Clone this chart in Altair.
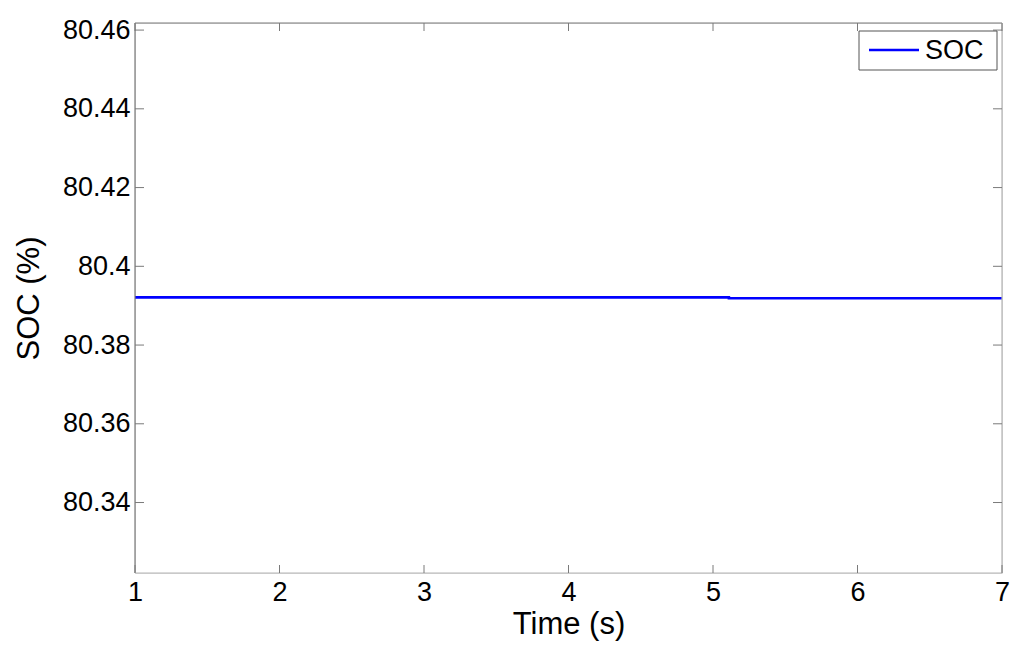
import altair as alt
import pandas as pd

# Data
time_s = [1.0, 5.11, 7.0]
soc_pct = [80.3921, 80.3919, 80.3919]
series_name = ["SOC", "SOC", "SOC"]

x_ticks = [1, 2, 3, 4, 5, 6, 7]
y_ticks = [80.34, 80.36, 80.38, 80.40, 80.42, 80.44, 80.46]
x_domain = [1, 7]
y_domain = [80.3221, 80.4618]

W, H = 867, 550
FONT = "Liberation Sans"
DARK = "#7a7a7a"
LIGHT = "#b5b5b5"
BLUE = "#0000ff"

df = pd.DataFrame({"t": time_s, "soc": soc_pct, "series": series_name})
xt = pd.DataFrame({"t": x_ticks})
yt = pd.DataFrame({"soc": y_ticks})
leg = pd.DataFrame({"series": [series_name[0]]})

xs = alt.Scale(domain=x_domain, nice=False, zero=False)
ys = alt.Scale(domain=y_domain, nice=False, zero=False)

line = alt.Chart(df).mark_line(interpolate="step-after", strokeWidth=2.6, color=BLUE).encode(
    x=alt.X("t:Q", scale=xs, axis=alt.Axis(
        values=x_ticks, format="d", title="Time (s)", ticks=False, domain=False, grid=False,
        labelFontSize=27, labelPadding=6, labelFont=FONT, labelColor="black", labelFlush=False,
        titleFont=FONT, titleFontSize=31, titleFontWeight="normal", titleColor="black",
        titleBaseline="alphabetic", titleY=60)),
    y=alt.Y("soc:Q", scale=ys, axis=alt.Axis(
        values=y_ticks, labelExpr="'' + datum.value", title="SOC (%)", ticks=False, domain=False, grid=False,
        labelFontSize=27, labelPadding=5, labelFont=FONT, labelColor="black", labelFlush=False,
        titleFont=FONT, titleFontSize=31, titleFontWeight="normal", titleColor="black",
        titleBaseline="bottom", titleX=-90)),
    detail="series:N",
)

# Frame
one = df.head(1)
left_edge = alt.Chart(one).mark_rule(color=DARK, strokeWidth=1.2).encode(
    x=alt.value(0), y=alt.value(0), y2=alt.value(H))
top_edge = alt.Chart(one).mark_rule(color=DARK, strokeWidth=1.2).encode(
    x=alt.value(0), x2=alt.value(W), y=alt.value(0))
right_edge = alt.Chart(one).mark_rule(color=LIGHT, strokeWidth=1.2).encode(
    x=alt.value(W), y=alt.value(0), y2=alt.value(H))
bottom_edge = alt.Chart(one).mark_rule(color=LIGHT, strokeWidth=1.2).encode(
    x=alt.value(0), x2=alt.value(W), y=alt.value(H))

# Inward ticks on all four sides
xb = alt.Chart(xt).mark_rule(color=DARK).encode(x=alt.X("t:Q", scale=xs), y=alt.value(H), y2=alt.value(H - 8))
xtp = alt.Chart(xt).mark_rule(color=DARK).encode(x=alt.X("t:Q", scale=xs), y=alt.value(0), y2=alt.value(8))
yl = alt.Chart(yt).mark_rule(color=DARK).encode(y=alt.Y("soc:Q", scale=ys), x=alt.value(0), x2=alt.value(9))
yr = alt.Chart(yt).mark_rule(color=DARK).encode(y=alt.Y("soc:Q", scale=ys), x=alt.value(W), x2=alt.value(W - 9))

# Legend box (MATLAB style)
leg_box = alt.Chart(leg).mark_rect(fill="white", stroke="#555555", strokeWidth=1).encode(
    x=alt.value(724), x2=alt.value(862), y=alt.value(8), y2=alt.value(47))
leg_line = alt.Chart(leg).mark_rule(color=BLUE, strokeWidth=2.6).encode(
    x=alt.value(734), x2=alt.value(784), y=alt.value(27))
leg_text = alt.Chart(leg).mark_text(font=FONT, fontSize=27, align="left", baseline="alphabetic", color="black").encode(
    x=alt.value(790), y=alt.value(36), text="series:N")

chart = alt.layer(line, left_edge, top_edge, right_edge, bottom_edge, xb, xtp, yl, yr,
                  leg_box, leg_line, leg_text).properties(
    width=W, height=H,
    autosize=alt.AutoSizeParams(type="none"),
    padding={"left": 127, "top": 15, "right": 10, "bottom": 75},
).configure_view(stroke=None).configure(background="white")

chart.save("out.html", embed_options={"renderer": "svg", "actions": False})
